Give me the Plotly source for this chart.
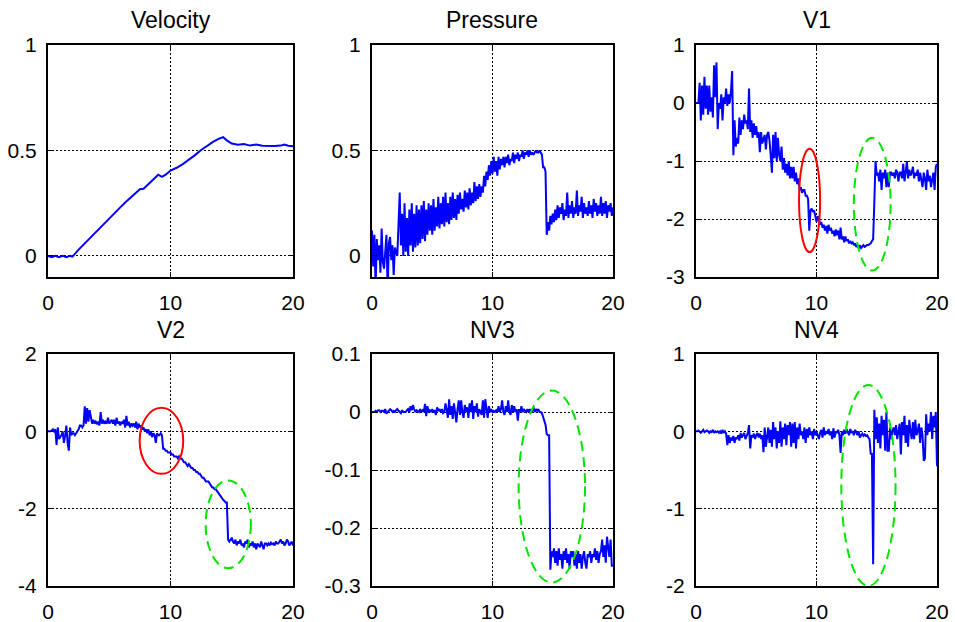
import plotly.graph_objects as go

# ---------------- data ----------------
vel_t = [0, 0.3, 0.6, 0.9, 1.2, 1.5, 1.8, 2.0, 2.5, 3.0, 3.3, 3.5, 4.0, 4.5, 5.0, 5.5, 6.0, 6.3, 6.6,
         7.0, 7.5, 7.8, 8.0, 8.5, 9.0, 9.3, 9.6, 10.0, 10.5, 11.0, 11.5, 12.0, 12.5, 13.0, 13.5, 14.0,
         14.3, 14.6, 15.0, 15.5, 16.0, 16.5, 17.0, 17.5, 18.0, 18.5, 19.0, 19.3, 19.6, 20.0]
velocity = [0, -0.006, 0, -0.006, 0, -0.006, 0, -0.003, 0.03, 0.06, 0.077, 0.09, 0.118, 0.147, 0.177,
            0.206, 0.236, 0.253, 0.268, 0.29, 0.316, 0.318, 0.33, 0.358, 0.385, 0.375, 0.385, 0.405,
            0.418, 0.435, 0.455, 0.478, 0.502, 0.524, 0.542, 0.557, 0.563, 0.548, 0.533, 0.527, 0.53,
            0.523, 0.528, 0.522, 0.521, 0.521, 0.523, 0.528, 0.522, 0.52]

# common time base for the sampled signals (0 .. 20 s, 0.1 s step)
t = [i / 10 for i in range(201)]

pressure = [
    0.12, -0.05, 0.10, -0.15, 0.08, -0.02, 0.05, -0.08, 0.13, -0.03,
    -0.06, 0.04, 0.10, -0.17, 0.06, 0.09, -0.02, 0.05, -0.09, 0.04,
    0.02, 0.00, 0.15, 0.30, 0.05, 0.20, 0.00, 0.25, 0.02, 0.18,
    0.00, 0.22, 0.05, 0.25, 0.02, 0.20, 0.04, 0.24, 0.05, 0.22,
    0.06, 0.24, 0.08, 0.26, 0.07, 0.22, 0.10, 0.25, 0.12, 0.24,
    0.10, 0.27, 0.12, 0.23, 0.14, 0.28, 0.13, 0.25, 0.15, 0.28,
    0.14, 0.30, 0.16, 0.25, 0.15, 0.28, 0.17, 0.30, 0.18, 0.27,
    0.17, 0.29, 0.20, 0.30, 0.22, 0.27, 0.21, 0.31, 0.23, 0.30,
    0.22, 0.32, 0.24, 0.30, 0.25, 0.35, 0.26, 0.33, 0.27, 0.34,
    0.28, 0.33, 0.30, 0.38, 0.33, 0.40, 0.36, 0.43, 0.38, 0.45,
    0.39, 0.47, 0.40, 0.45, 0.38, 0.47, 0.41, 0.46, 0.43, 0.47,
    0.42, 0.47, 0.44, 0.48, 0.43, 0.46, 0.45, 0.49, 0.44, 0.48,
    0.46, 0.49, 0.45, 0.48, 0.47, 0.50, 0.46, 0.49, 0.48, 0.50,
    0.47, 0.50, 0.48, 0.49, 0.48, 0.49, 0.50, 0.49, 0.49, 0.50,
    0.49, 0.48, 0.42, 0.42, 0.40, 0.10, 0.16, 0.12, 0.19, 0.15,
    0.20, 0.16, 0.22, 0.17, 0.24, 0.18, 0.23, 0.20, 0.25, 0.17,
    0.22, 0.19, 0.30, 0.18, 0.24, 0.20, 0.26, 0.18, 0.23, 0.20,
    0.31, 0.19, 0.24, 0.21, 0.28, 0.18, 0.25, 0.20, 0.23, 0.19,
    0.26, 0.20, 0.24, 0.18, 0.27, 0.21, 0.25, 0.19, 0.24, 0.20,
    0.28, 0.19, 0.25, 0.20, 0.26, 0.18, 0.24, 0.21, 0.25, 0.19,
    0.23]

v1 = [
    0.00, 0.00, 0.00, 0.35, -0.30, 0.30, -0.20, 0.45, -0.10, 0.30,
    -0.20, 0.30, -0.15, 0.10, -0.25, 0.65, 0.10, 0.70, -0.45, 0.00,
    -0.10, 0.15, -0.30, 0.10, 0.00, 0.25, -0.05, 0.15, 0.00, 0.20,
    0.55, -0.90, -0.30, -0.75, -0.60, -0.70, -0.25, -0.55, -0.30, -0.45,
    -0.20, -0.35, -0.30, -0.45, 0.25, -0.50, -0.30, -0.60, -0.35, -0.55,
    -0.40, -0.60, -0.50, -0.85, -0.50, -0.70, -0.60, -0.55, -0.80, -0.55,
    -0.50, -0.65, -0.90, -1.20, -0.55, -0.95, -0.50, -1.00, -0.60, -0.90,
    -1.00, -0.75, -1.15, -0.95, -1.20, -1.05, -1.25, -1.00, -1.30, -1.10,
    -1.30, -1.10, -1.35, -1.20, -1.40, -1.30, -1.50, -1.45, -1.55, -1.50,
    -1.50, -1.60, -1.60, -1.65, -2.20, -1.85, -1.82, -1.88, -1.85, -1.95,
    -2.05, -1.95, -2.00, -2.10, -2.05, -2.15, -2.10, -2.20, -2.12, -2.25,
    -2.10, -2.20, -2.15, -2.25, -2.20, -2.30, -2.18, -2.28, -2.20, -2.35,
    -2.15, -2.35, -2.30, -2.40, -2.30, -2.38, -2.35, -2.42, -2.38, -2.42,
    -2.40, -2.45, -2.42, -2.48, -2.45, -2.50, -2.45, -2.50, -2.48, -2.45,
    -2.48, -2.46, -2.45, -2.45, -2.44, -2.42, -2.38, -2.35, -1.70, -1.00,
    -1.25, -1.20, -1.35, -1.15, -1.50, -1.20, -1.30, -1.15, -1.45, -1.20,
    -1.45, -1.20, -1.20, -1.25, -1.20, -1.30, -1.15, -1.20, -1.35, -1.20,
    -1.20, -1.30, -1.05, -1.35, -1.20, -1.00, -1.30, -1.15, -1.25, -1.20,
    -1.10, -1.30, -1.20, -1.25, -1.15, -1.35, -1.20, -1.30, -1.45, -1.20,
    -1.30, -1.50, -1.15, -1.35, -1.25, -1.45, -1.30, -1.20, -1.50, -1.10,
    -1.05]

v2 = [
    0.00, 0.00, 0.00, 0.02, 0.05, 0.00, 0.05, -0.35, 0.10, -0.20,
    -0.15, -0.10, 0.00, -0.30, -0.10, 0.15, -0.30, -0.50, 0.10, -0.10,
    -0.05, -0.05, -0.10, -0.05, 0.00, 0.05, 0.15, 0.15, 0.10, 0.15,
    0.65, 0.20, 0.60, 0.25, 0.55, 0.30, 0.20, 0.30, 0.20, 0.25,
    0.20, 0.25, 0.15, 0.50, 0.20, 0.30, 0.20, 0.25, 0.20, 0.35,
    0.20, 0.25, 0.30, 0.20, 0.30, 0.15, 0.35, 0.20, 0.25, 0.15,
    0.25, 0.20, 0.30, 0.10, 0.40, 0.15, 0.25, 0.10, 0.20, 0.15,
    0.20, 0.10, 0.25, 0.05, 0.20, 0.10, 0.15, 0.05, 0.10, 0.00,
    0.05, -0.05, 0.05, -0.10, 0.00, -0.15, -0.05, -0.10, -0.30, -0.05,
    -0.10, -0.10, -0.05, -0.10, -0.45, -0.45, -0.50, -0.50, -0.55, -0.55,
    -0.55, -0.60, -0.60, -0.65, -0.65, -0.65, -0.70, -0.65, -0.70, -0.70,
    -0.75, -0.80, -0.80, -0.85, -0.90, -0.85, -0.90, -0.95, -0.95, -1.00,
    -1.00, -1.05, -1.05, -1.10, -1.10, -1.15, -1.20, -1.20, -1.25, -1.30,
    -1.30, -1.30, -1.35, -1.40, -1.45, -1.45, -1.50, -1.50, -1.55, -1.60,
    -1.62, -1.68, -1.72, -1.77, -1.80, -1.84, -1.84, -2.80, -2.85, -2.80,
    -2.75, -2.85, -2.90, -2.80, -2.95, -2.85, -2.90, -2.80, -2.95, -2.90,
    -3.00, -2.85, -2.90, -2.80, -3.00, -2.90, -2.95, -2.85, -3.00, -2.90,
    -3.05, -2.90, -2.95, -3.00, -2.85, -2.95, -3.05, -2.90, -2.90, -2.95,
    -2.90, -2.95, -2.88, -2.92, -2.90, -2.95, -2.85, -2.90, -2.90, -2.85,
    -2.80, -2.90, -2.85, -2.95, -2.90, -2.80, -2.85, -2.95, -2.90, -2.85,
    -2.95]

nv3 = [
    0.000, 0.000, 0.000, 0.002, 0.000, 0.003, 0.003, 0.000, 0.002, 0.002,
    0.000, 0.005, -0.003, 0.000, 0.003, 0.005, 0.003, 0.000, 0.002, 0.000,
    0.003, 0.005, 0.002, 0.000, -0.002, 0.003, 0.000, 0.000, 0.000, 0.003,
    0.005, 0.000, 0.010, 0.003, 0.012, 0.005, 0.000, 0.003, 0.002, 0.000,
    0.005, 0.000, 0.003, 0.000, 0.014, -0.007, 0.010, 0.000, 0.003, 0.000,
    0.005, 0.000, 0.003, -0.005, 0.008, 0.002, 0.005, 0.000, 0.005, -0.002,
    0.000, 0.015, 0.003, -0.010, 0.022, -0.005, 0.010, -0.012, 0.015, 0.000,
    -0.018, 0.005, 0.020, -0.005, 0.020, 0.000, -0.010, 0.012, 0.000, 0.008,
    -0.010, 0.015, 0.000, 0.020, -0.012, 0.010, 0.000, 0.015, -0.008, 0.005,
    0.000, -0.005, 0.020, -0.010, 0.022, 0.000, -0.010, 0.010, 0.000, 0.005,
    0.000, 0.002, 0.000, 0.003, 0.000, 0.010, 0.000, 0.005, 0.020, 0.000,
    -0.005, 0.010, 0.000, 0.020, 0.000, -0.005, 0.012, 0.000, 0.010, 0.000,
    0.005, -0.015, 0.005, 0.000, 0.010, 0.000, 0.005, 0.002, 0.000, 0.005,
    0.000, 0.005, 0.000, 0.002, 0.008, 0.000, 0.005, 0.002, 0.005, 0.000,
    0.000, -0.002, -0.008, -0.018, -0.022, -0.038, -0.040, -0.040, -0.272, -0.240,
    -0.250, -0.235, -0.260, -0.240, -0.265, -0.235, -0.255, -0.245, -0.270, -0.240,
    -0.255, -0.235, -0.260, -0.245, -0.270, -0.240, -0.250, -0.240, -0.265, -0.245,
    -0.270, -0.240, -0.260, -0.245, -0.270, -0.250, -0.240, -0.260, -0.270, -0.245,
    -0.250, -0.240, -0.260, -0.245, -0.250, -0.235, -0.255, -0.240, -0.260, -0.245,
    -0.240, -0.220, -0.250, -0.230, -0.260, -0.215, -0.240, -0.250, -0.220, -0.265,
    -0.265]

nv4 = [
    0.00, 0.00, 0.01, 0.00, -0.02, 0.00, 0.02, -0.01, 0.00, 0.01,
    0.00, -0.02, 0.00, -0.01, 0.02, -0.02, 0.00, -0.01, 0.00, -0.02,
    0.00, -0.03, 0.02, -0.02, 0.00, -0.03, -0.18, -0.05, -0.15, -0.08,
    -0.12, -0.06, -0.15, -0.08, -0.10, -0.05, -0.12, -0.02, -0.08, -0.05,
    -0.02, -0.10, -0.05, -0.02, 0.08, -0.22, -0.05, -0.08, -0.03, -0.10,
    -0.05, -0.02, -0.08, -0.03, -0.10, -0.05, -0.27, 0.05, -0.20, -0.10,
    0.05, -0.15, 0.02, -0.20, 0.12, -0.10, 0.05, -0.22, 0.00, -0.15,
    0.13, -0.20, 0.05, -0.10, 0.10, -0.18, 0.08, -0.05, 0.12, -0.20,
    0.10, -0.15, 0.12, -0.22, 0.05, -0.10, 0.10, -0.05, 0.00, -0.10,
    0.05, -0.15, 0.03, -0.08, 0.05, -0.05, 0.00, -0.10, 0.03, -0.05,
    0.00, -0.05, -0.10, -0.02, 0.02, -0.08, 0.05, -0.05, 0.00, -0.03,
    0.03, -0.05, 0.00, -0.10, 0.04, -0.08, 0.00, -0.02, 0.02, -0.05,
    -0.28, 0.00, -0.05, 0.02, -0.03, 0.03, -0.02, -0.05, 0.03, -0.02,
    0.00, -0.05, 0.02, -0.02, -0.05, 0.00, -0.08, -0.05, -0.03, -0.06,
    -0.04, -0.06, -0.05, -0.08, -0.10, -0.30, -0.28, -1.72, 0.28, -0.10,
    0.18, -0.15, 0.10, -0.22, 0.20, -0.05, 0.15, -0.25, 0.25, -0.25,
    -0.25, 0.05, -0.10, 0.00, 0.05, -0.05, 0.08, -0.10, 0.00, 0.10,
    -0.30, 0.12, -0.05, 0.20, -0.15, 0.08, -0.20, 0.15, 0.00, -0.10,
    0.12, -0.10, 0.15, -0.05, 0.00, 0.10, -0.15, 0.05, -0.05, -0.38,
    -0.35, 0.22, -0.05, 0.10, 0.00, 0.25, -0.10, 0.20, 0.05, 0.25,
    -0.45]

titles = ["Velocity", "Pressure", "V1", "V2", "NV3", "NV4"]
y_ranges = [[-0.1, 1], [-0.1, 1], [-3, 1], [-4, 2], [-0.3, 0.1], [-2, 1]]
y_ticks = [[0, 0.5, 1], [0, 0.5, 1], [-3, -2, -1, 0, 1], [-4, -2, 0, 2],
           [-0.3, -0.2, -0.1, 0, 0.1], [-2, -1, 0, 1]]
y_ticktext = [["0", "0.5", "1"], ["0", "0.5", "1"], ["-3", "-2", "-1", "0", "1"],
              ["-4", "-2", "0", "2"], ["-0.3", "-0.2", "-0.1", "0", "0.1"], ["-2", "-1", "0", "1"]]
x_ticks = [0, 10, 20]

# highlight ellipses: (panel index, x0, x1, y0, y1, kind)
ellipses = [
    (2, 8.55, 10.3, -2.57, -0.79, "red"),
    (2, 13.1, 16.15, -2.89, -0.6, "green"),
    (3, 7.48, 11.04, -1.1, 0.61, "red"),
    (3, 12.87, 16.56, -3.54, -1.27, "green"),
    (4, 12.17, 17.68, -0.294, 0.037, "green"),
    (5, 12.06, 16.56, -2.0, 0.6, "green"),
]

series = [(vel_t, velocity), (t, pressure), (t, v1), (t, v2), (t, nv3), (t, nv4)]

# ---------------- layout geometry ----------------
W, H = 955, 622
x_doms_px = [(48, 293), (372, 613), (696, 937)]
y_doms_px = [(45, 277), (354, 586)]

FONT = "Liberation Sans, Arial, sans-serif"

fig = go.Figure()
layout = dict(
    width=W, height=H, margin=dict(l=0, r=0, t=0, b=0),
    paper_bgcolor="white", plot_bgcolor="white", showlegend=False,
    template="none", font=dict(family=FONT, color="black"),
    annotations=[], shapes=[],
)

for i, (xs, ys) in enumerate(series):
    r, c = divmod(i, 3)
    n = i + 1
    xa = "x" if n == 1 else f"x{n}"
    ya = "y" if n == 1 else f"y{n}"
    fig.add_trace(go.Scatter(x=xs, y=ys, mode="lines", xaxis=xa, yaxis=ya,
                             line=dict(color="#0000ff", width=2), hoverinfo="skip"))
    xd = x_doms_px[c]
    yd = y_doms_px[r]
    common = dict(showline=True, linecolor="black", linewidth=2, mirror="ticks",
                  ticks="inside", ticklen=5, tickwidth=1, tickcolor="black",
                  showgrid=True, gridcolor="black", gridwidth=1.2, griddash="2px,2px",
                  zeroline=False, automargin=False,
                  tickfont=dict(family=FONT, size=21, color="black"))
    layout["xaxis" if n == 1 else f"xaxis{n}"] = dict(
        common, domain=[xd[0] / W, xd[1] / W], range=[0, 20], tickmode="array",
        tickvals=x_ticks, ticktext=[str(v) for v in x_ticks], anchor=ya,
        ticklabelstandoff=6)
    layout["yaxis" if n == 1 else f"yaxis{n}"] = dict(
        common, domain=[1 - yd[1] / H, 1 - yd[0] / H], range=y_ranges[i],
        tickmode="array", tickvals=y_ticks[i], ticktext=y_ticktext[i], anchor=xa,
        ticklabelstandoff=5)
    ty = 20 if r == 0 else 330
    layout["annotations"].append(dict(
        text=titles[i], xref="paper", yref="paper", x=(xd[0] + xd[1]) / 2 / W,
        y=1 - ty / H, xanchor="center", yanchor="middle", showarrow=False,
        font=dict(family=FONT, size=23, color="black")))

for (p, x0, x1, y0, y1, kind) in ellipses:
    n = p + 1
    xa = "x" if n == 1 else f"x{n}"
    ya = "y" if n == 1 else f"y{n}"
    if kind == "red":
        line = dict(color="#ff0000", width=2)
    else:
        line = dict(color="#00e600", width=2, dash="10px,6px")
    layout["shapes"].append(dict(type="circle", xref=xa, yref=ya, x0=x0, x1=x1,
                                 y0=y0, y1=y1, line=line, layer="above"))

fig.update_layout(**layout)
fig.write_html("out.html")
